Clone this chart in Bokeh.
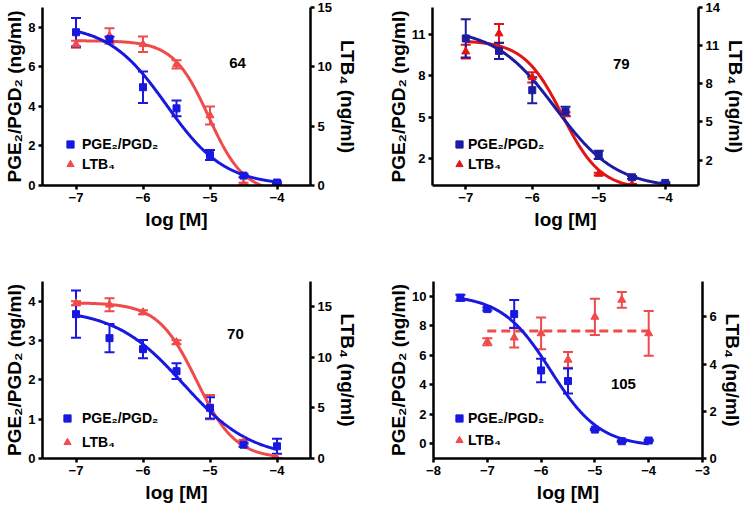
import numpy as np
from bokeh.plotting import figure
from bokeh.models import (Range1d, LinearAxis, Whisker, TeeHead, ColumnDataSource,
                          Legend, LegendItem, Label, FixedTicker)
from bokeh.layouts import column, row
from bokeh.embed import file_html
from bokeh.resources import INLINE

# ---------------- data ----------------
log_conc = [-7.0, -6.5, -6.0, -5.5, -5.0, -4.5, -4.0]
log_conc_105 = [-7.5, -7.0, -6.5, -6.0, -5.5, -5.0, -4.5, -4.0]

# compound 64
pge_64 = [7.75, 7.4, 4.97, 3.9, 1.54, 0.5, 0.15]
pge_64_err = [0.72, 0.12, 0.8, 0.4, 0.25, 0.08, 0.05]
ltb_64 = [11.9, 12.6, 11.9, 10.2, 5.9, 0.15, 0.0]
ltb_64_err = [0.3, 0.65, 0.65, 0.35, 0.75, 0.08, 0.05]
fit_pge_64 = (8.15, 0.0, -5.65, 1.0)      # top, bottom, logIC50, hill
fit_ltb_64 = (12.2, -0.6, -5.02, 1.65)

# compound 79
pge_79 = [10.74, 9.83, 6.96, 5.4, 2.23, 0.6, 0.19]
pge_79_err = [1.4, 0.6, 0.95, 0.35, 0.3, 0.1, 0.05]
ltb_79 = [10.53, 11.95, 8.51, 5.62, 0.91, 0.06, 0.05]
ltb_79_err = [0.55, 0.75, 0.4, 0.15, 0.1, 0.05, 0.05]
fit_pge_79 = (11.5, -0.2, -5.65, 0.95)
fit_ltb_79 = (11.4, -0.3, -5.55, 1.5)

# compound 70
pge_70 = [3.67, 3.06, 2.78, 2.22, 1.29, 0.35, 0.31]
pge_70_err = [0.6, 0.36, 0.23, 0.2, 0.27, 0.05, 0.19]
ltb_70 = [15.34, 15.2, 14.45, 11.5, 5.09, 1.64, 0.0]
ltb_70_err = [0.2, 0.65, 0.2, 0.2, 1.2, 0.2, 0.05]
fit_pge_70 = (3.8, 0.0, -5.4, 0.85)
fit_ltb_70 = (15.4, 0.0, -5.2, 1.5)

# compound 105
pge_105 = [9.9, 9.13, 8.79, 4.97, 4.25, 0.96, 0.17, 0.22]
pge_105_err = [0.2, 0.1, 0.95, 0.8, 0.85, 0.05, 0.05, 0.05]
ltb_105 = [4.95, 5.12, 5.3, 4.18, 6.0, 6.72, 5.3]
ltb_105_err = [0.15, 0.42, 0.67, 0.33, 0.77, 0.33, 0.95]
fit_pge_105 = (10.1, -0.2, -5.82, 0.95)
ltb_105_mean = 5.4

FONT = "Liberation Sans"


def logistic(x, top, bottom, logc, hill):
    return bottom + (top - bottom) / (1.0 + 10.0 ** ((x - logc) * hill))


def style_axis(ax, ticks, label_standoff, title_size="19px"):
    ax.ticker = FixedTicker(ticks=ticks)
    ax.axis_line_width = 2.5
    ax.axis_line_color = "black"
    ax.major_tick_line_width = 2.5
    ax.major_tick_line_color = "black"
    ax.major_tick_out = 4
    ax.major_tick_in = 0
    ax.minor_tick_out = 0
    ax.minor_tick_in = 0
    ax.major_label_text_font = FONT
    ax.major_label_text_font_style = "bold"
    ax.major_label_text_font_size = "13px"
    ax.major_label_text_color = "black"
    ax.major_label_standoff = 3
    ax.axis_label_text_font = FONT
    ax.axis_label_text_font_style = "bold"
    ax.axis_label_text_font_size = title_size
    ax.axis_label_text_color = "black"
    ax.axis_label_standoff = label_standoff


def errorbars(p, xs, ys, errs, color, range_name="default"):
    src = ColumnDataSource(dict(x=xs, lower=[y - e for y, e in zip(ys, errs)],
                                upper=[y + e for y, e in zip(ys, errs)]))
    w = Whisker(source=src, base="x", lower="lower", upper="upper", dimension="height",
                line_color=color, line_width=2,
                upper_head=TeeHead(size=10, line_color=color, line_width=2),
                lower_head=TeeHead(size=10, line_color=color, line_width=2),
                y_range_name=range_name)
    p.add_layout(w)


def make_panel(width, height, borders, xr, yl, yr, xticks, lticks, rticks,
               xs_pge, pge, pge_err, xs_ltb, ltb, ltb_err, fit_pge, fit_ltb,
               blue, red, name, name_xy, leg_loc, leg_standoff, leg_spacing, ltb_mean=None):
    p = figure(width=width, height=height, output_backend="svg", toolbar_location=None,
               x_range=Range1d(*xr), y_range=Range1d(*yl),
               min_border_left=borders[0], min_border_right=borders[1],
               min_border_top=borders[2], min_border_bottom=borders[3])
    p.extra_y_ranges = {"right": Range1d(*yr)}
    p.add_layout(LinearAxis(y_range_name="right", axis_label="LTB₄ (ng/ml)"), "right")
    p.grid.visible = False
    p.outline_line_color = None
    p.background_fill_color = "white"
    p.border_fill_color = "white"
    p.xaxis.axis_label = "log [M]"
    p.left[0].axis_label = "PGE₂/PGD₂ (ng/ml)"
    style_axis(p.below[0], xticks, 4)
    style_axis(p.left[0], lticks, 0)
    style_axis(p.right[0], rticks, 2)

    # curves
    if ltb_mean is None:
        xc = np.linspace(min(xs_ltb), max(xs_ltb), 300)
        p.line(xc, logistic(xc, *fit_ltb), line_color=red, line_width=3, y_range_name="right")
    else:
        p.line([min(xs_ltb), max(xs_ltb)], [ltb_mean, ltb_mean], line_color=red,
               line_width=3, line_dash="9 5", y_range_name="right")
    xc = np.linspace(min(xs_pge), max(xs_pge), 300)
    p.line(xc, logistic(xc, *fit_pge), line_color=blue, line_width=3)

    # error bars + markers
    errorbars(p, xs_ltb, ltb, ltb_err, red, "right")
    errorbars(p, xs_pge, pge, pge_err, blue)
    r_ltb = p.scatter(xs_ltb, ltb, marker="triangle", size=8, fill_color=red,
                      line_color=red, y_range_name="right")
    r_pge = p.scatter(xs_pge, pge, marker="square", size=7, fill_color=blue, line_color=blue)

    legend = Legend(items=[LegendItem(label="PGE₂/PGD₂", renderers=[r_pge]),
                           LegendItem(label="LTB₄", renderers=[r_ltb])],
                    location=leg_loc, glyph_width=18, glyph_height=18, label_height=18,
                    label_width=10, label_standoff=leg_standoff, spacing=leg_spacing,
                    padding=0, margin=0, border_line_alpha=0, background_fill_alpha=0,
                    label_text_font=FONT, label_text_font_style="bold",
                    label_text_font_size="14px", label_text_color="black")
    p.add_layout(legend)

    p.add_layout(Label(x=name_xy[0], y=name_xy[1], text=name, text_font=FONT,
                       text_font_style="bold", text_font_size="15px", text_color="black",
                       text_align="center", text_baseline="middle"))
    return p


BLUE = "#1818e0"
RED = "#f04a4a"

p1 = make_panel(374, 254, (42, 64, 7, 69), (-7.5, -3.5), (0, 9), (0, 15),
                [-7, -6, -5, -4], [0, 2, 4, 6, 8], [0, 5, 10, 15],
                log_conc, pge_64, pge_64_err, log_conc, ltb_64, ltb_64_err,
                fit_pge_64, fit_ltb_64, BLUE, RED, "64", (-4.59, 6.2), (19, 12), 3, 2)

p2 = make_panel(374, 254, (58, 46, 7, 68), (-7.5, -3.5), (0, 13), (0, 14),
                [-7, -6, -5, -4], [2, 5, 8, 11], [2, 5, 8, 11, 14],
                log_conc, pge_79, pge_79_err, log_conc, ltb_79, ltb_79_err,
                fit_pge_79, fit_ltb_79, "#1c1ca0", "#e41414", "79", (-4.66, 8.9),
                (18, 12), 0, 2)

p3 = make_panel(374, 254, (42, 64, 27, 50), (-7.5, -3.5), (0, 4.5), (0, 17.5),
                [-7, -6, -5, -4], [0, 1, 2, 3, 4], [0, 5, 10, 15],
                log_conc, pge_70, pge_70_err, log_conc, ltb_70, ltb_70_err,
                fit_pge_70, fit_ltb_70, BLUE, RED, "70", (-4.62, 3.16), (16, 7), 6, 6)

p4 = make_panel(374, 254, (59, 46, 25, 50), (-8, -3), (-1, 11), (0, 7.5),
                [-8, -7, -6, -5, -4, -3], [0, 2, 4, 6, 8, 10], [0, 2, 4, 6],
                log_conc_105, pge_105, pge_105_err, log_conc, ltb_105, ltb_105_err,
                fit_pge_105, None, BLUE, RED, "105", (-4.47, 4.05), (17, 9), 0, 4,
                ltb_mean=ltb_105_mean)

layout = column(row(p1, p2), row(p3, p4))
open("out.html", "w").write(file_html(layout, INLINE))
